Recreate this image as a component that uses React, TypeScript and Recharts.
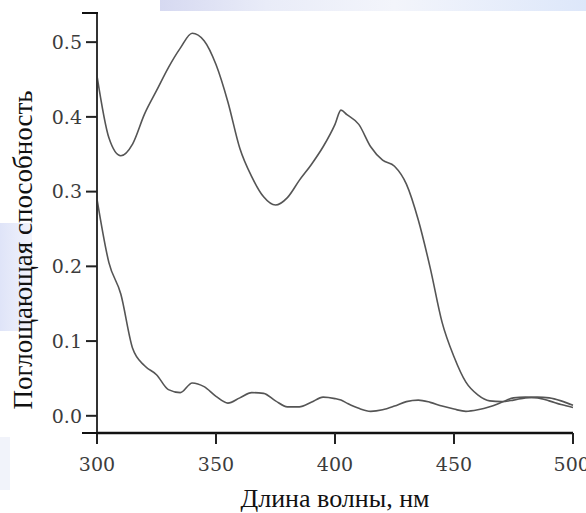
import React from 'react';
import { LineChart, Line, XAxis, YAxis, Label } from 'recharts';

// wavelength grid, nm
const wavelengths = [
  300, 305, 310, 315, 320, 325, 330, 335, 340, 345,
  350, 355, 360, 365, 370, 375, 380, 385, 390, 395,
  400, 402.5, 405, 410, 415, 420, 425, 430, 435, 440, 445,
  450, 455, 460, 465, 470, 475, 480, 485, 490, 495, 500,
];

// upper spectrum
const upperAbs = [
  0.455, 0.372, 0.348, 0.364, 0.404, 0.435, 0.466, 0.492, 0.512, 0.502,
  0.47, 0.42, 0.358, 0.32, 0.293, 0.282, 0.292, 0.315, 0.336, 0.36,
  0.39, 0.409, 0.403, 0.39, 0.36, 0.342, 0.334, 0.31, 0.262, 0.198, 0.125,
  0.079, 0.045, 0.028, 0.02, 0.019, 0.021, 0.024, 0.025, 0.024, 0.02, 0.014,
];

// lower spectrum
const lowerAbs = [
  0.29, 0.205, 0.163, 0.09, 0.067, 0.055, 0.035, 0.031, 0.044, 0.039,
  0.026, 0.017, 0.024, 0.031, 0.03, 0.02, 0.012, 0.012, 0.018, 0.025,
  0.023, 0.021, 0.017, 0.01, 0.006, 0.008, 0.013, 0.019, 0.021, 0.018, 0.013,
  0.009, 0.006, 0.008, 0.012, 0.018, 0.024, 0.025, 0.024, 0.02, 0.015, 0.011,
];

const xTicks = [300, 350, 400, 450, 500];
const yTicks = [0, 0.1, 0.2, 0.3, 0.4, 0.5];
const yDomain = [-0.023, 0.539];

const data = wavelengths.map((w, i) => ({ w, upper: upperAbs[i], lower: lowerAbs[i] }));

const tickStyle = { fontFamily: 'DejaVu Serif', fontSize: 19, fill: '#3c3c3c' };

const YTitle = () => (
  <text
    transform="translate(23,250) rotate(-90)"
    textAnchor="middle"
    dy="0.35em"
    style={{ fontFamily: 'Liberation Serif', fontSize: 27, fill: '#111' }}
  >
    Поглощающая способность
  </text>
);

export default function App() {
  return (
    <div style={{ position: 'relative', width: 586, height: 513, background: '#fff' }}>
      <style>{`body{margin:0}`}</style>
      {/* faint slide background */}
      <div style={{ position: 'absolute', left: 160, top: 0, width: 426, height: 11, background: 'linear-gradient(90deg, #d6d9f1, #e9ecf8 25%, #f3f5fb 55%, #dde7fa)' }} />
      <div style={{ position: 'absolute', left: 0, top: 223, width: 32, height: 108, background: 'linear-gradient(90deg, #dfe4f8, #f1f3fc)' }} />
      <div style={{ position: 'absolute', left: 0, top: 437, width: 10, height: 53, background: '#f1f3fa' }} />
      <div style={{ position: 'absolute', left: 0, top: 0 }}>
        <LineChart
          width={586}
          height={513}
          data={data}
          margin={{ top: 13, right: 13, bottom: 0, left: 0 }}
        >
          <XAxis
            dataKey="w"
            type="number"
            domain={[300, 500]}
            ticks={xTicks}
            tick={tickStyle}
            tickSize={11}
            tickMargin={14}
            height={80}
            axisLine={{ stroke: '#111', strokeWidth: 2.5 }}
            tickLine={{ stroke: '#222', strokeWidth: 2 }}
          >
            <Label
              value="Длина волны, нм"
              position="insideBottom"
              offset={6}
              style={{ fontFamily: 'Liberation Serif', fontSize: 26, fill: '#111' }}
            />
          </XAxis>
          <XAxis
            xAxisId="top"
            orientation="top"
            dataKey="w"
            type="number"
            domain={[300, 500]}
            tick={false}
            tickLine={false}
            height={0}
            axisLine={{ stroke: '#111', strokeWidth: 2.5 }}
          />
          <YAxis
            type="number"
            domain={yDomain}
            ticks={yTicks}
            tickFormatter={(v: number) => v.toFixed(1)}
            tick={tickStyle}
            tickSize={11}
            tickMargin={4}
            width={97}
            axisLine={{ stroke: '#333', strokeWidth: 2 }}
            tickLine={{ stroke: '#222', strokeWidth: 2 }}
          >
            <Label content={<YTitle />} />
          </YAxis>
          <YAxis
            yAxisId="right"
            orientation="right"
            domain={yDomain}
            tick={false}
            tickLine={false}
            width={0}
            axisLine={{ stroke: '#444', strokeWidth: 2 }}
          />
          <Line type="monotone" dataKey="upper" stroke="#555" strokeWidth={1.6} dot={false} isAnimationActive={false} />
          <Line type="monotone" dataKey="lower" stroke="#555" strokeWidth={1.6} dot={false} isAnimationActive={false} />
        </LineChart>
      </div>
      {/* frame lines overshoot the left edge a little */}
      <div style={{ position: 'absolute', left: 82, top: 11.75, width: 16, height: 2.5, background: '#111' }} />
      <div style={{ position: 'absolute', left: 82, top: 431.75, width: 16, height: 2.5, background: '#111' }} />
    </div>
  );
}
